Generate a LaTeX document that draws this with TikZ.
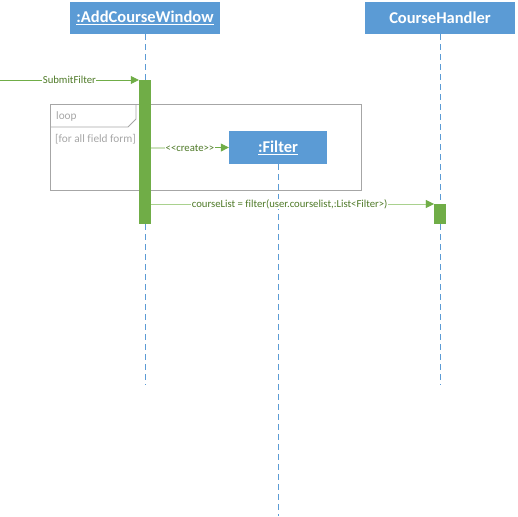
\documentclass[tikz,border=0pt]{standalone}
\usepackage{fontspec}
\setmainfont{Carlito}[Ligatures=NoCommon]
\usetikzlibrary{arrows.meta}
\definecolor{hdr}{HTML}{5B9BD5}
\definecolor{act}{HTML}{70AD47}
\definecolor{msgtxt}{HTML}{4F7A28}
\definecolor{lite}{HTML}{A9D18E}
\definecolor{frm}{HTML}{A6A6A6}
\begin{document}
\begin{tikzpicture}[x=1pt,y=-1pt,
  objbox/.style={fill=hdr,draw=none,minimum width=150pt,minimum height=32pt,inner sep=0pt,text=white,font=\fontsize{16.5}{18}\selectfont\bfseries},
  lifeline/.style={draw=hdr,dash pattern=on 6pt off 4pt,line width=0.8pt},
  actbar/.style={fill=act,draw=none},
  msg/.style={draw=act,line width=0.8pt,-{Triangle[length=8pt,width=8pt]}},
  msglabel/.style={fill=white,inner sep=0.5pt,text=msgtxt,font=\fontsize{10.7}{12}\selectfont},
  frmline/.style={draw=frm,line width=0.8pt},
  frmtext/.style={text=frm,font=\fontsize{11.3}{13}\selectfont,anchor=west,inner sep=0pt}
]
\useasboundingbox (0,0) rectangle (518,516);
% objects
\node[objbox] (acw) at (145,18) {\underline{:AddCourseWindow}};
\node[objbox] (ch) at (440,18) {CourseHandler};
% lifelines
\coordinate (acwend) at (145,385);
\coordinate (chend) at (440,385);
\coordinate (filend) at (278,516);
\draw[lifeline] (acw.south) -- (acwend);
\draw[lifeline] (ch.south) -- (chend);
% loop frame
\draw[frmline] (50,104) rectangle (361,190);
\draw[frmline] (50,127) -- (128,127) -- (136,119) -- (136,104);
\node[frmtext] (looplbl) at (56,116) {loop};
\node[frmtext] (guard) at (55,139) {[for all field form]};
% activation bars
\node[actbar,minimum width=12pt,minimum height=144pt,inner sep=0pt,anchor=north] (bar1) at (145,80) {};
\node[actbar,minimum width=12pt,minimum height=20pt,inner sep=0pt,anchor=north] (bar2) at (440,204) {};
% filter object
\node[objbox,minimum width=98pt,minimum height=33pt] (fil) at (278,147.5) {\underline{:Filter}};
\draw[lifeline] (fil.south) -- (filend);
% messages
\coordinate (start) at (0,80);
\draw[msg] (start) -- (bar1.north west) node[msglabel,pos=0.5] (l1) {SubmitFilter};
\draw[msg] (bar1.east |- 0,148) -- (fil.west) node[msglabel,pos=0.5] (l2) {{<}{<}create{>}{>}};
\draw[msg,draw=lite] (bar1.east |- 0,204) -- (bar2.north west) node[msglabel,pos=0.49] (l3) {courseList = filter(user.courselist,:List{<}Filter{>})};
\fill[act] (bar2.north west) -- ++(-8,-4) -- ++(0,8) -- cycle;
\end{tikzpicture}
\end{document}
